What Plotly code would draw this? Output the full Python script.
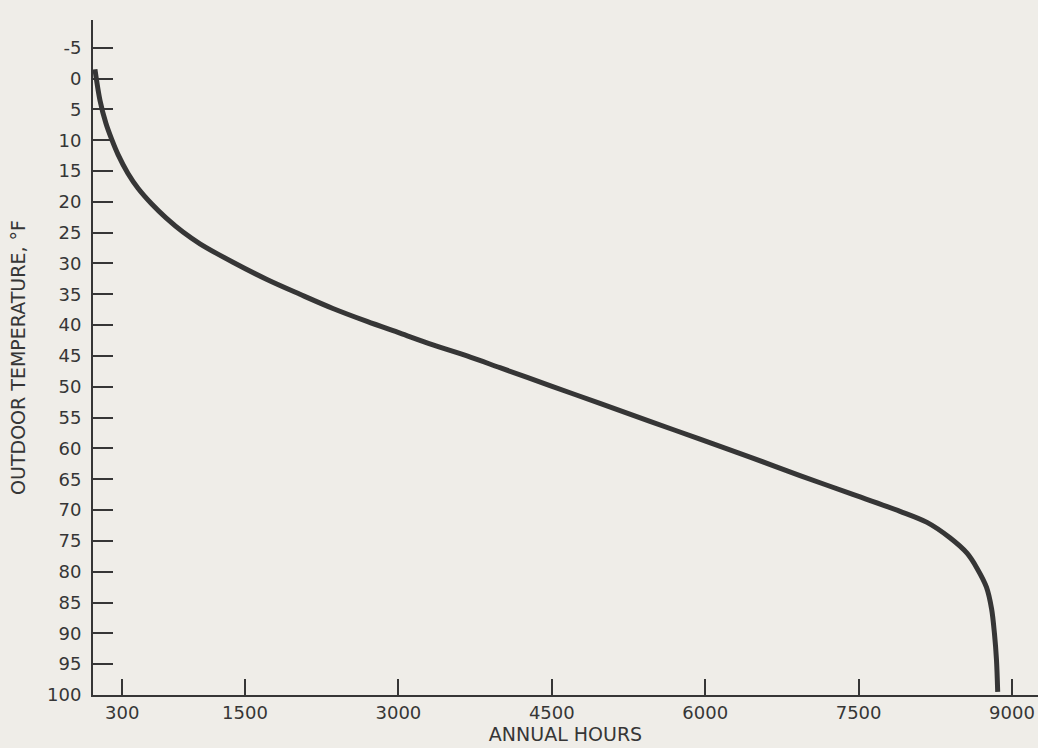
import plotly.graph_objects as go

# Data (annual hours vs outdoor temperature, °F)
annual_hours = [33, 82, 141, 200, 258, 356, 454, 591, 728, 894, 1060, 1383, 1715,
                2038, 2360, 2693, 3016, 3338, 3671, 3993, 4482, 4971, 5460, 5949,
                6438, 6927, 7416, 7905, 8169, 8393, 8560, 8660, 8750, 8800, 8828,
                8848, 8860]
outdoor_temp = [-1.5, 3.5, 7.3, 10.0, 12.3, 15.4, 17.8, 20.4, 22.6, 24.9, 26.8, 29.8,
                32.6, 35.0, 37.3, 39.4, 41.3, 43.2, 45.0, 46.9, 49.8, 52.7, 55.6,
                58.5, 61.4, 64.4, 67.3, 70.2, 72.0, 74.5, 77.0, 79.5, 82.5, 86.0,
                90.0, 94.3, 99.5]

x_tickvals = [300, 1500, 3000, 4500, 6000, 7500, 9000]
x_ticktext = ["300", "1500", "3000", "4500", "6000", "7500", "9000"]
y_tickvals = [-5, 0, 5, 10, 15, 20, 25, 30, 35, 40, 45, 50, 55, 60, 65, 70, 75,
              80, 85, 90, 95, 100]
y_ticktext = ["-5", "0", "5", "10", "15", "20", "25", "30", "35", "40", "45", "50",
              "55", "60", "65", "70", "75", "80", "85", "90", "95", "100"]

ink = "#363636"
paper = "#efede8"
font_family = "DejaVu Sans"

fig = go.Figure()
fig.add_trace(go.Scatter(
    x=annual_hours, y=outdoor_temp, mode="lines",
    line=dict(color=ink, width=5, shape="spline", smoothing=0.9),
    hoverinfo="skip", showlegend=False,
))

fig.update_layout(
    width=1038, height=748,
    margin=dict(l=93, r=0, t=20, b=53),
    paper_bgcolor=paper, plot_bgcolor=paper,
    font=dict(family=font_family, color=ink, size=18),
    showlegend=False,
)

fig.update_xaxes(
    range=[14, 9254], showgrid=False, zeroline=False,
    showline=True, linecolor=ink, linewidth=2,
    ticks="inside", ticklen=16, tickwidth=2, tickcolor=ink,
    tickvals=x_tickvals, ticktext=x_ticktext,
    tickfont=dict(size=18, family=font_family, color=ink),
    ticklabelstandoff=0,
    title=dict(text="ANNUAL HOURS", font=dict(size=19, family=font_family, color=ink),
               standoff=4),
)

fig.update_yaxes(
    range=[100, -9.5], showgrid=False, zeroline=False,
    showline=True, linecolor=ink, linewidth=2,
    ticks="inside", ticklen=20, tickwidth=2, tickcolor=ink,
    tickvals=y_tickvals, ticktext=y_ticktext,
    tickfont=dict(size=18, family=font_family, color=ink),
    ticklabelstandoff=6,
    title=dict(text="OUTDOOR TEMPERATURE, °F", font=dict(size=19, family=font_family, color=ink),
               standoff=16),
)

fig.write_html(
    "out.html",
    config={"displayModeBar": False},
    post_script="document.body.style.margin='0';document.body.style.background='%s';" % paper,
)
